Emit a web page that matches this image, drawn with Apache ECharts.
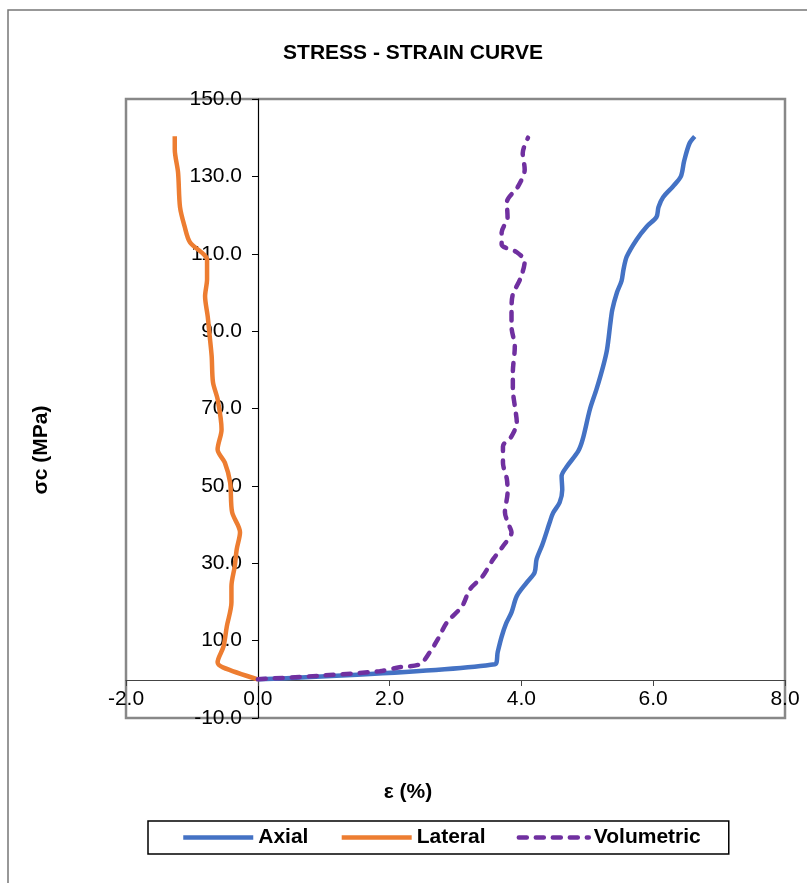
<!DOCTYPE html>
<html>
<head>
<meta charset="utf-8">
<script src="https://cdn.jsdelivr.net/npm/echarts@6/dist/echarts.min.js"></script>
<style>
  html, body { margin: 0; padding: 0; background: #fff; }
  #chart { width: 807px; height: 883px; }
</style>
</head>
<body>
<div id="chart"></div>
<script>
// strain (%) / stress (MPa)
var axialStrain = [0, 3.60, 3.64, 3.70, 3.77, 3.85, 3.93, 4.08, 4.20, 4.23, 4.32, 4.43, 4.48, 4.58, 4.62, 4.61, 4.69, 4.86, 4.93, 5.04, 5.14, 5.24, 5.30, 5.35, 5.38, 5.45, 5.52, 5.55, 5.60, 5.75, 5.90, 6.05, 6.08, 6.15, 6.30, 6.42, 6.47, 6.55, 6.63]
var axialStress = [0, 3.9, 7.0, 11.0, 14.5, 17.3, 21.5, 25.0, 27.6, 31.0, 34.9, 40.6, 43.0, 45.7, 49.0, 52.5, 55.0, 58.9, 62.0, 69.8, 75.0, 80.9, 85.3, 92.0, 95.6, 100.0, 103.0, 106.0, 109.3, 113.7, 117.0, 119.5, 122.0, 124.6, 127.4, 130.0, 134.0, 138.5, 140.3]

var lateralStrain = [0, -0.53, -0.61, -0.52, -0.47, -0.40, -0.40, -0.35, -0.32, -0.27, -0.39, -0.42, -0.50, -0.61, -0.55, -0.61, -0.68, -0.70, -0.73, -0.76, -0.80, -0.77, -0.77, -0.83, -1.03, -1.11, -1.18, -1.21, -1.26, -1.26]
var lateralStress = [0, 3.1, 4.4, 8.5, 13.7, 19.9, 24.0, 29.2, 33.6, 38.0, 43.2, 50.9, 56.0, 59.4, 64.6, 72.4, 76.8, 83.5, 88.7, 93.8, 99.0, 103.4, 108.5, 110.0, 113.0, 117.0, 122.0, 131.0, 137.0, 140.4]

var volStrain = [0, 1.00, 1.85, 2.15, 2.46, 2.61, 2.73, 2.87, 3.10, 3.22, 3.41, 3.57, 3.72, 3.85, 3.82, 3.75, 3.79, 3.78, 3.72, 3.72, 3.85, 3.93, 3.90, 3.87, 3.87, 3.90, 3.85, 3.85, 3.87, 3.98, 4.05, 3.93, 3.70, 3.70, 3.79, 3.78, 3.95, 4.05, 4.02, 4.10]
var volStress = [0, 1.0, 2.1, 3.1, 3.9, 7.0, 10.3, 14.7, 18.9, 23.3, 26.6, 31.0, 34.4, 38.0, 39.5, 43.2, 48.3, 51.7, 56.0, 60.2, 62.8, 66.4, 70.6, 75.0, 79.3, 86.0, 91.2, 95.6, 99.5, 103.4, 108.0, 110.4, 112.4, 115.5, 119.4, 123.3, 127.4, 131.8, 136.0, 140.0]

var seriesNames = ['Axial', 'Lateral', 'Volumetric']

function pairs(xs, ys) {
  return xs.map(function (x, i) { return [x, ys[i]] })
}

var chart = echarts.init(document.getElementById('chart'))
chart.setOption({
  animation: false,
  textStyle: { fontFamily: 'Liberation Sans, Arial, sans-serif' },
  grid: {
    left: 126, right: 22, top: 99, bottom: 165,
    show: true, borderColor: '#888', borderWidth: 2.5
  },
  graphic: [
    // outer chart frame (cut off at right/bottom)
    { type: 'polyline', shape: { points: [[8, 883], [8, 10], [807, 10]] },
      style: { stroke: '#777', lineWidth: 1.5, fill: null } },
    { type: 'text', x: 413, y: 53,
      style: { text: 'STRESS - STRAIN CURVE', font: 'bold 21px Liberation Sans, Arial', fill: '#000', align: 'center', verticalAlign: 'middle' } },
    { type: 'text', x: 41, y: 450, rotation: Math.PI / 2,
      style: { text: 'σc (MPa)', font: 'bold 21px Liberation Sans, Arial', fill: '#000', align: 'center', verticalAlign: 'middle' } },
    { type: 'text', x: 408, y: 792,
      style: { text: 'ε (%)', font: 'bold 21px Liberation Sans, Arial', fill: '#000', align: 'center', verticalAlign: 'middle' } }
  ],
  legend: {
    data: seriesNames,
    left: 148, top: 821,
    orient: 'horizontal',
    borderColor: '#000', borderWidth: 1.5,
    padding: [6, 28, 6, 33],
    itemWidth: 70, itemHeight: 14, itemGap: 31,
    itemStyle: { opacity: 0 },
    lineStyle: { width: 4.5 },
    textStyle: { fontSize: 21, fontWeight: 'bold', color: '#000' }
  },
  xAxis: {
    type: 'value', min: -2, max: 8, interval: 2,
    // sits on y = 0 like the original
    offset: -38,
    axisLine: { onZero: false, lineStyle: { color: '#444', width: 1.2 } },
    axisTick: { show: true, length: 6, lineStyle: { color: '#444' } },
    axisLabel: { color: '#000', fontSize: 21, margin: 9, showMinLabel: true, showMaxLabel: true,
      formatter: function (v) { return v.toFixed(1) } },
    splitLine: { show: false }
  },
  yAxis: {
    type: 'value', min: -10, max: 150, interval: 20,
    // sits on x = 0
    offset: -132,
    axisLine: { onZero: false, lineStyle: { color: '#000', width: 1.2 } },
    axisTick: { show: true, length: 6, lineStyle: { color: '#000' } },
    axisLabel: { color: '#000', fontSize: 21, margin: 16, showMinLabel: true, showMaxLabel: true,
      formatter: function (v) { return v.toFixed(1) } },
    splitLine: { show: false }
  },
  series: [
    {
      name: 'Axial', type: 'line', data: pairs(axialStrain, axialStress),
      showSymbol: false, symbol: 'none', smooth: 0.3,
      lineStyle: { color: '#4472C4', width: 4.5 }, itemStyle: { color: '#4472C4' }
    },
    {
      name: 'Lateral', type: 'line', data: pairs(lateralStrain, lateralStress),
      showSymbol: false, symbol: 'none', smooth: 0.3,
      lineStyle: { color: '#ED7D31', width: 4.5 }, itemStyle: { color: '#ED7D31' }
    },
    {
      name: 'Volumetric', type: 'line', data: pairs(volStrain, volStress),
      showSymbol: false, symbol: 'none', smooth: 0.3,
      lineStyle: { color: '#7030A0', width: 4.5, type: [8, 9], cap: 'round' }, itemStyle: { color: '#7030A0' }
    }
  ]
})
</script>
</body>
</html>
